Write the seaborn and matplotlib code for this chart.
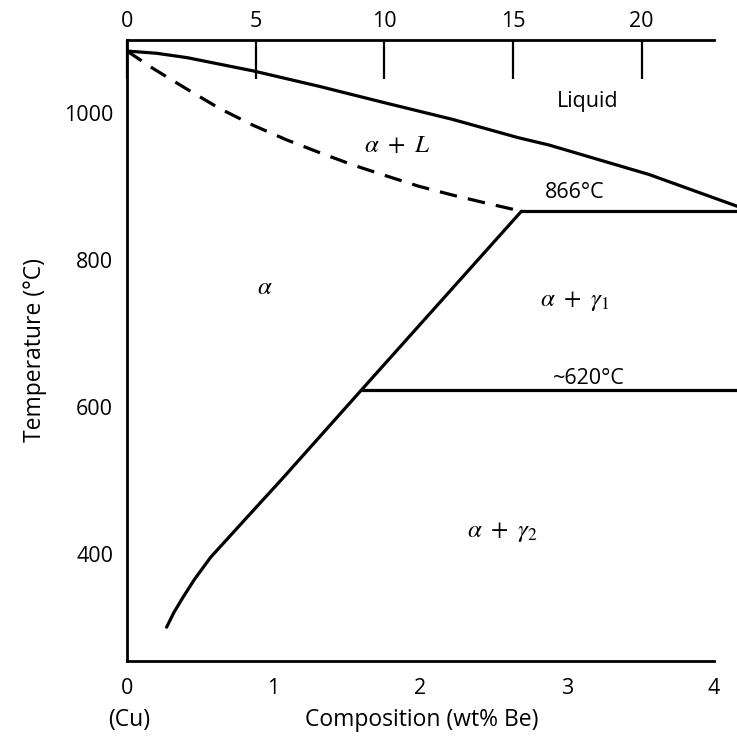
import numpy as np
import pandas as pd
import matplotlib
matplotlib.use("Agg")
import matplotlib.pyplot as plt
import seaborn as sns


# ---------------------------------------
# Data
# ---------------------------------------
# liquidus (solid line, top)
liq_wt = [0.0, 0.2, 0.41, 0.86, 1.31, 1.77, 2.22, 2.67, 2.88, 3.56, 4.20]
liq_T = [1084, 1081, 1075, 1057, 1036, 1013, 991, 966, 956, 916, 870]

# solidus (dashed)
sol_wt = [0.0, 0.18, 0.41, 0.63, 0.86, 1.09, 1.31, 1.54, 1.77, 1.99, 2.22, 2.45, 2.69]
sol_T = [1084, 1060, 1032, 1006, 983, 963, 946, 929, 914, 900, 888, 877, 866]

# alpha solvus
solv_wt = [0.27, 0.32, 0.38, 0.46, 0.57, 0.83, 1.05, 1.60, 2.69]
solv_T = [300, 320, 340, 365, 395, 452, 500, 623, 866]

# isotherms
peri_wt = [2.69, 4.30]
peri_T = [866, 866]
eut_wt = [1.60, 4.30]
eut_T = [623, 623]

# tick labels
wt_ticks = [0, 1, 2, 3, 4]
at_ticks = [0, 5, 10, 15, 20]
T_ticks = [300, 400, 500, 600, 700, 800, 900, 1000]
T_labels = ["", "400", "", "600", "", "800", "", "1000"]
at_per_wt = 5.7

# ---------------------------------------
# Plot
# ---------------------------------------
sns.set_theme(style="white")
plt.rcParams["font.family"] = ["Open Sans", "DejaVu Sans"]
plt.rcParams["mathtext.fontset"] = "stix"
plt.rcParams["text.color"] = "black"
plt.rcParams["axes.labelcolor"] = "black"
plt.rcParams["xtick.color"] = "black"
plt.rcParams["ytick.color"] = "black"

fig = plt.figure(figsize=(7.37, 7.41), dpi=100)
ax = fig.add_axes([0.1723, 0.108, 1.0 - 0.1723, 0.946 - 0.108])

lw = 2.3
sns.lineplot(x=liq_wt, y=liq_T, ax=ax, color="black", lw=lw, sort=False)
sns.lineplot(x=sol_wt, y=sol_T, ax=ax, color="black", lw=lw, sort=False,
             dashes=False, linestyle=(0, (5.5, 3.5)))
sns.lineplot(x=solv_wt, y=solv_T, ax=ax, color="black", lw=lw, sort=False)
sns.lineplot(x=peri_wt, y=peri_T, ax=ax, color="black", lw=lw, sort=False)
sns.lineplot(x=eut_wt, y=eut_T, ax=ax, color="black", lw=lw, sort=False)

ax.set_xlim(0, 4.16)
ax.set_ylim(254, 1099)

for side in ["left", "bottom", "top"]:
    ax.spines[side].set_color("black")
    ax.spines[side].set_linewidth(2.0)
ax.spines["right"].set_visible(False)
ax.spines["bottom"].set_bounds(0, 4)
ax.spines["top"].set_bounds(0, 4)

ax.set_xticks(wt_ticks)
ax.set_yticks(T_ticks)
ax.set_yticklabels(T_labels)
ax.tick_params(axis="both", direction="in", length=28, width=1.6,
               color="black", labelcolor="black", labelsize=15.5, pad=10)
ax.tick_params(axis="x", pad=12)

secax = ax.secondary_xaxis("top", functions=(lambda w: w * at_per_wt,
                                             lambda a: a / at_per_wt))
secax.set_xticks(at_ticks)
secax.spines["top"].set_visible(False)
secax.tick_params(axis="x", direction="in", length=28, width=1.6,
                  color="black", labelcolor="black", labelsize=15.5, pad=6)

ax.set_ylabel("Temperature (°C)", fontsize=16.5, labelpad=12, color="black")
ax.set_xlabel("")
fig.text(0.572, 0.028, "Composition (wt% Be)", fontsize=16.5,
         ha="center", va="center")
fig.text(0.175, 0.028, "(Cu)", fontsize=16.5, ha="center", va="center")

# phase region labels
ax.text(3.14, 1015, "Liquid", fontsize=15.5, ha="center", va="center")
ax.text(1.84, 956, r"$\alpha\ +\ L$", fontsize=18, ha="center", va="center")
ax.text(3.05, 891, "866°C", fontsize=15.5, ha="center", va="center")
ax.text(0.94, 762, r"$\alpha$", fontsize=18, ha="center", va="center")
ax.text(3.05, 745, r"$\alpha\ +\ \gamma_{1}$", fontsize=18, ha="center", va="center")
ax.text(3.15, 639, "~620°C", fontsize=15.5, ha="center", va="center")
ax.text(2.56, 430, r"$\alpha\ +\ \gamma_{2}$", fontsize=18, ha="center", va="center")

fig.savefig("out.png", dpi=100)
